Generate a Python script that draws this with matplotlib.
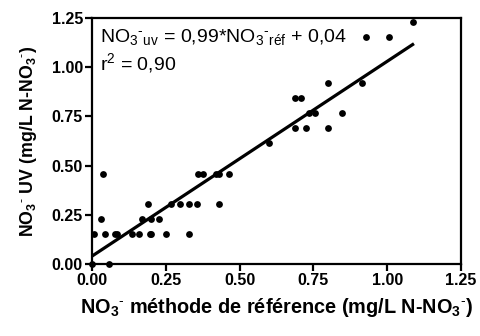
import matplotlib
matplotlib.use("Agg")
import matplotlib.pyplot as plt
import numpy as np

plt.rcParams['font.family'] = ['Liberation Sans', 'DejaVu Sans']
plt.rcParams['mathtext.fontset'] = 'custom'
plt.rcParams['mathtext.rm'] = 'Liberation Sans'
plt.rcParams['mathtext.bf'] = 'Liberation Sans:bold'
plt.rcParams['mathtext.it'] = 'Liberation Sans:italic'

# reference method vs UV method (mg/L N-NO3-)
no3_ref = [0.0, 0.008, 0.029, 0.038, 0.045, 0.058, 0.078, 0.083, 0.136, 0.159,
           0.168, 0.188, 0.195, 0.200, 0.200, 0.227, 0.249, 0.267, 0.298, 0.329,
           0.329, 0.357, 0.358, 0.377, 0.419, 0.429, 0.429, 0.464, 0.598, 0.687,
           0.708, 0.687, 0.726, 0.798, 0.735, 0.757, 0.847, 0.798, 0.915, 0.927,
           1.005, 1.086]
no3_uv = [0.0, 0.15, 0.227, 0.457, 0.15, 0.0, 0.15, 0.15, 0.15, 0.15,
          0.227, 0.303, 0.15, 0.15, 0.227, 0.227, 0.15, 0.303, 0.303, 0.303,
          0.15, 0.303, 0.457, 0.457, 0.457, 0.457, 0.303, 0.457, 0.613, 0.843,
          0.843, 0.689, 0.689, 0.689, 0.766, 0.766, 0.766, 0.921, 0.921, 1.152,
          1.152, 1.228]
slope = 0.99
intercept = 0.04
ticks = [0.0, 0.25, 0.5, 0.75, 1.0, 1.25]

fig = plt.figure(figsize=(4.8, 3.36), dpi=100)
ax = fig.add_axes([0.1917, 0.2143, 0.7688, 0.7321])

ax.scatter(no3_ref, no3_uv, s=24, color='black', zorder=3, clip_on=False, linewidths=0)
xfit = np.array([0.0, max(no3_ref)])
ax.plot(xfit, slope * xfit + intercept, color='black', lw=2.3)

ax.set_xlim(0, 1.25)
ax.set_ylim(0, 1.25)
ax.set_xticks(ticks)
ax.set_yticks(ticks)
ax.set_xticklabels(['%.2f' % t for t in ticks], fontweight='bold', fontsize=11.5)
ax.set_yticklabels(['%.2f' % t for t in ticks], fontweight='bold', fontsize=11.5)
for s in ax.spines.values():
    s.set_linewidth(1.6)
ax.tick_params(direction='out', length=5, width=1.6, pad=1.5)

no3 = r'NO$_\mathbf{3}$$^{\mathbf{\text{-}}}$'
ax.set_xlabel(no3 + r' méthode de référence (mg/L N-' + no3 + ')',
              fontweight='bold', fontsize=14.3, labelpad=6)
ax.set_ylabel(no3 + r' UV (mg/L N-' + no3 + ')',
              fontweight='bold', fontsize=12.8, labelpad=9)

ax.text(0.022, 0.904,
        r'NO$_3$$^{\text{-}}$$_{\mathrm{uv}}$ = 0,99*NO$_3$$^{\text{-}}$$_{\mathrm{réf}}$ + 0,04',
        transform=ax.transAxes, fontsize=14, va='baseline', ha='left')
ax.text(0.022, 0.789, r'r$^2$ = 0,90', transform=ax.transAxes, fontsize=14,
        va='baseline', ha='left')

fig.savefig('out.png', dpi=100)
